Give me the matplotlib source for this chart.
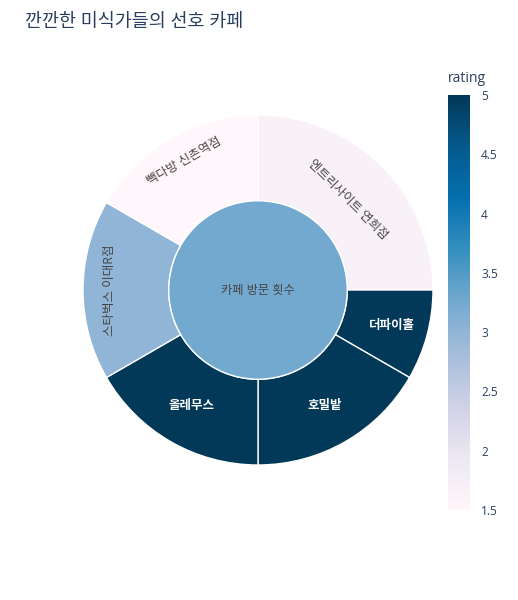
import matplotlib.pyplot as plt
import numpy as np
from matplotlib import cm, colors

plt.rcParams["font.family"] = ["Open Sans", "Noto Sans CJK KR", "DejaVu Sans"]

title = "깐깐한 미식가들의 선호 카페"
root_label = "카페 방문 횟수"
cafes = ["엔트리사이트 연희점", "더파이홀", "호밀밭", "올레무스", "스타벅스 이대R점", "빽다방 신촌역점"]
visits = [3, 1, 2, 2, 2, 2]
ratings = [1.67, 5.0, 5.0, 5.0, 3.0, 1.5]
cbar_ticks = [1.5, 2, 2.5, 3, 3.5, 4, 4.5, 5]

# label radius per sector (layout only)
label_radius = [0.73, 0.79, 0.76, 0.76, 0.85, 0.85]

cmap = plt.get_cmap("PuBu")
norm = colors.Normalize(vmin=1.5, vmax=5)
root_rating = np.average(ratings, weights=visits)

fig = plt.figure(figsize=(5.18, 6.0), dpi=100)
ax = fig.add_axes([83 / 518, 135 / 600, 350 / 518, 350 / 600])

inner = 0.51
ax.pie(
    visits,
    radius=1.0,
    startangle=90,
    counterclock=False,
    colors=[cmap(norm(r)) for r in ratings],
    wedgeprops=dict(width=1.0 - inner, edgecolor="white", linewidth=1.0),
)
ax.pie(
    [sum(visits)],
    radius=inner,
    colors=[cmap(norm(root_rating))],
    wedgeprops=dict(edgecolor="white", linewidth=1.0),
)
ax.set_xlim(-1, 1)
ax.set_ylim(-1, 1)
ax.set_aspect("equal")
ax.axis("off")

ax.text(0, 0, root_label, ha="center", va="center", fontsize=8.8, color="#444444")

total = sum(visits)
start = 90.0
for name, v, r, rad in zip(cafes, visits, ratings, label_radius):
    span = 360.0 * v / total
    mid = start - span / 2
    start -= span
    x = rad * np.cos(np.radians(mid))
    y = rad * np.sin(np.radians(mid))
    if norm(r) > 0.6:
        ax.text(x, y, name, ha="center", va="center", fontsize=9,
                color="white", fontweight="semibold")
    else:
        # tangential orientation, kept readable
        rot = (mid - 90) % 180
        if rot > 90:
            rot -= 180
        ax.text(x, y, name, ha="center", va="center", fontsize=9,
                color="#444444", rotation=rot, rotation_mode="anchor")

fig.text(25 / 518, 1 - 22 / 600, title, ha="left", va="center",
         fontsize=13.3, color="#2a3f5f")

cax = fig.add_axes([448 / 518, 90 / 600, 22 / 518, 415 / 600])
cb = fig.colorbar(cm.ScalarMappable(norm=norm, cmap=cmap), cax=cax, ticks=cbar_ticks)
cb.outline.set_visible(False)
cb.ax.set_yticklabels([f"{t:g}" for t in cbar_ticks])
cb.ax.tick_params(length=0, pad=8, labelsize=8.6, labelcolor="#2a3f5f")
fig.text(448 / 518, 1 - 78 / 600, "rating", ha="left", va="center",
         fontsize=10, color="#2a3f5f")

fig.savefig("out.png", dpi=100)
